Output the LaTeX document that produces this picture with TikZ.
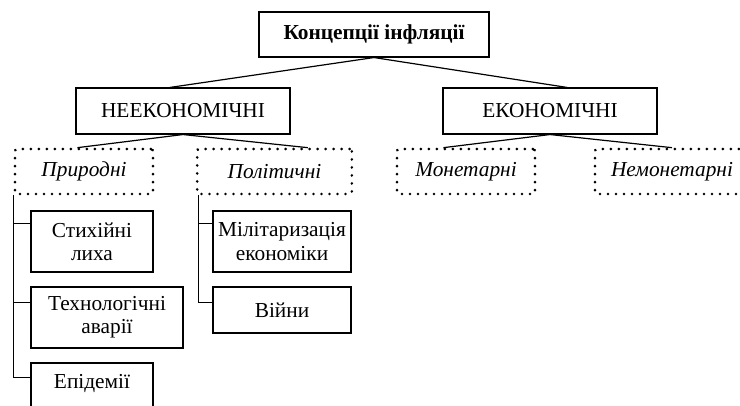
\documentclass[tikz,border=0pt]{standalone}
\usepackage{fontspec}
\setmainfont{Liberation Serif}
\usetikzlibrary{positioning, calc}

\tikzset{
	box/.style={draw, line width=0.8pt, align=center, inner sep=0pt,
		font=\fontsize{16pt}{17.5pt}\selectfont},
	dotbox/.style={draw, line width=2pt, dash pattern=on 0.2pt off 5.8pt, line cap=round,
		rounded corners=1.5pt, inner sep=0pt, font=\fontsize{16pt}{17.5pt}\selectfont\itshape},
	link/.style={line width=0.9pt}
}

\begin{document}
\begin{tikzpicture}[x=0.75pt, y=-0.75pt]
		\useasboundingbox (0,0) rectangle (740,405);

		\node[box, minimum width=172.5pt, minimum height=33.75pt, font=\fontsize{16pt}{17.5pt}\selectfont\bfseries] (konc) at (374,34.5) {Концепції інфляції};

		\node[box, minimum width=160.5pt, minimum height=34.5pt] (neek) at (183,111) {НЕЕКОНОМІЧНІ};
		\node[box, minimum width=160.5pt, minimum height=34.5pt] (ekon) at (550,111) {ЕКОНОМІЧНІ};

		\node[dotbox, minimum width=103.5pt, minimum height=33.75pt] (pryr) at (84,171.5) {Природні};
		\node[dotbox, minimum width=116pt, minimum height=33.75pt] (polit) at (274.5,171.5) {Політичні};
		\node[dotbox, minimum width=103.5pt, minimum height=33.75pt] (monet) at (466,171.5) {Монетарні};
		\node[dotbox, minimum width=115.5pt, minimum height=33.75pt] (nemon) at (672,171.5) {Немонетарні};

		\node[box, minimum width=91.5pt, minimum height=45.75pt] (styk) at (92,241.5) {Стихійні\\лиха};
		\node[box, minimum width=114pt, minimum height=45.75pt] (tekh) at (107,317.5) {Технологічні\\аварії};
		\node[box, minimum width=91.5pt, minimum height=45.75pt] (epid) at (92,393.5) {Епідемії\\~};
		\node[box, minimum width=103.5pt, minimum height=45.75pt] (milit) at (282,241.5) {Мілітаризація\\економіки};
		\node[box, minimum width=103.5pt, minimum height=34.5pt] (viyny) at (282,310) {Війни};

		\draw[link] (konc.south) -- ([xshift=-10pt]neek.north);
		\draw[link] (konc.south) -- ([xshift=13pt]ekon.north);
		\draw[link] (neek.south) -- ([xshift=-5pt]pryr.north);
		\draw[link] (neek.south) -- ([xshift=25pt]polit.north);
		\draw[link] (ekon.south) -- ([xshift=-17pt]monet.north);
		\draw[link] (ekon.south) -- (nemon.north);

		% Trees under the dotted groups
		\draw[link] (pryr.south west) |- ([yshift=-11pt]epid.north west);
		\draw[link] (pryr.south west) |- ([yshift=-10pt]styk.north west);
		\draw[link] (pryr.south west) |- ([yshift=-12pt]tekh.north west);
		\draw[link] ([xshift=2pt]polit.south west) |- ([yshift=-10pt]milit.north west);
		\draw[link] ([xshift=2pt]polit.south west) |- ([yshift=-12pt]viyny.north west);
\end{tikzpicture}
\end{document}
